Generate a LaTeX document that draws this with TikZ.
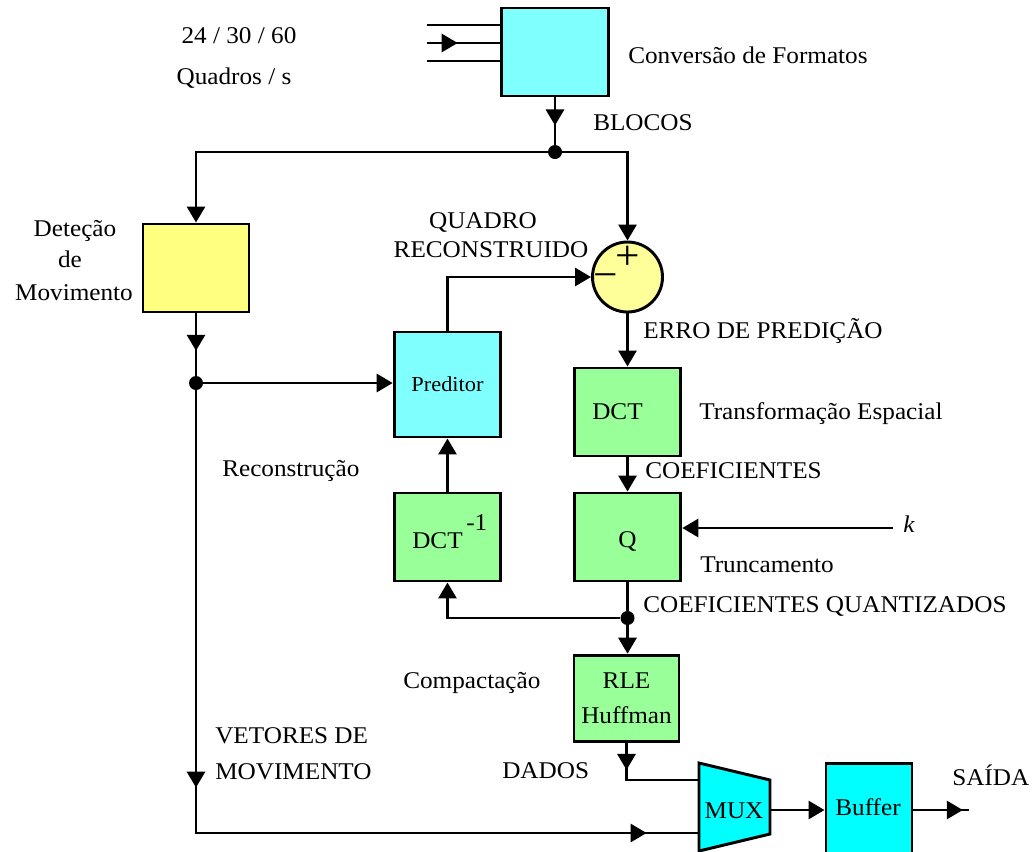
\documentclass[tikz,border=0pt]{standalone}
\usepackage{fontspec}
\setmainfont{Liberation Serif}[FakeStretch=1.05]
\usetikzlibrary{arrows.meta,decorations.markings}

\definecolor{cyanlt}{HTML}{80FFFF}
\definecolor{cyanfull}{HTML}{00FFFF}
\definecolor{yellowlt}{HTML}{FFFF80}
\definecolor{sumyellow}{HTML}{FFFF99}
\definecolor{greenlt}{HTML}{99FF99}

\tikzset{
  tri/.tip={Triangle[length=12pt,width=13.5pt]},
  wire/.style={line width=2.2pt},
  blk/.style={draw, line width=2.2pt, inner sep=0pt},
  sqbox/.style={blk, minimum width=80pt, minimum height=66pt},
  lbl/.style={inner sep=0pt, font=\fontsize{18}{21}\selectfont},
  lw/.style={lbl, anchor=base west},
  lc/.style={lbl, anchor=base},
  sgn/.style={inner sep=0pt, anchor=base, font=\fontsize{31}{31}\selectfont},
  dot/.style={circle, fill=black, inner sep=0pt, minimum size=10.5pt},
  midarr/.style={postaction={decorate},
    decoration={markings, mark=at position #1 with {\arrow{tri}}}},
}

\begin{document}
\begin{tikzpicture}[x=0.75pt,y=-0.75pt]
\useasboundingbox (0,0) rectangle (1034,851);

% ---- blocks
\node[sqbox, fill=cyanlt] (conv) at (555,52) {};
\node[sqbox, fill=yellowlt, minimum width=79.5pt] (det) at (196,268) {};
\node[blk, fill=cyanlt, minimum width=80pt, minimum height=78.75pt,
      font=\fontsize{16}{19}\selectfont] (pred) at (447.5,384.5) {Preditor};
\node[circle, draw, line width=2.2pt, fill=sumyellow, minimum size=52.5pt,
      inner sep=0pt] (sum) at (627.5,277) {};
\node[sqbox, fill=greenlt] (dct) at (627.5,412) {};
\node[sqbox, fill=greenlt] (q) at (627.5,537) {};
\node[sqbox, fill=greenlt] (idct) at (447.5,537) {};
\node[blk, fill=greenlt, minimum width=78.75pt, minimum height=65pt,
      align=center, font=\fontsize{18}{26}\selectfont] (rle) at (626.5,698.5) {RLE\\Huffman};
\node[blk, fill=cyanfull, minimum width=64.5pt, minimum height=69.75pt] (buf) at (869,810) {};
\draw[line width=2.2pt, fill=cyanfull] (699,763) -- (770,780) -- (770,834) -- (699,851) -- cycle;

% ---- texts inside blocks
\node[lw] (dcttxt) at (592,419) {DCT};
\node[lc] (qtxt) at (627.5,547) {Q};
\node[lw] (idcttxt) at (412,548) {DCT};
\node[lw] (idctexp) at (466,530) {-1};
\node[lc] (mux) at (734,818) {MUX};
\node[lc] (buftxt) at (868,815) {Buffer};
\node[sgn] (plus) at (628,269) {+};
\node[sgn] (minus) at (606,288) {−};

% ---- labels
\node[lc] at (239,43) {24 / 30 / 60};
\node[lc] at (234,84) {Quadros / s};
\node[lw] at (628,63) {Conversão de Formatos};
\node[lw] at (593,130) {BLOCOS};
\node[lc] at (75,236) {Deteção};
\node[lc] at (70,267) {de};
\node[lc] at (74,300) {Movimento};
\node[lc] at (483,228) {QUADRO};
\node[lc] at (491,257) {RECONSTRUIDO};
\node[lw] at (643,338) {ERRO DE PREDIÇÃO};
\node[lw] at (699,419) {Transformação Espacial};
\node[lw] at (222,476) {Reconstrução};
\node[lw] at (645,478) {COEFICIENTES};
\node[lw] at (700,572) {Truncamento};
\node[lw] at (643,612) {COEFICIENTES QUANTIZADOS};
\node[lw] at (403,688) {Compactação};
\node[lw] at (215,743) {VETORES DE};
\node[lw] at (215,779) {MOVIMENTO};
\node[lw] at (502,778) {DADOS};
\node[lw] at (952,785) {SAÍDA};
\node[lw, font=\fontsize{18}{21}\selectfont\itshape] (k) at (903,532) {k};

% ---- junctions and free ends
\node[dot] (j1) at (555,152) {};
\node[dot] (j2) at (196,383) {};
\node[dot] (j3) at (627.5,618) {};
\coordinate (in1) at (427,25);
\coordinate (in2) at (427,43);
\coordinate (in3) at (427,61);
\coordinate (kin) at (893,528);
\coordinate (bl) at (196,833);
\coordinate (muxa) at (699,780);
\coordinate (muxb) at (699,833);
\coordinate (muxo) at (770,810);
\coordinate (out) at (969,810);

% ---- connectors
\draw[wire] (in1) -- (in1 -| conv.west);
\draw[wire, midarr=23pt] (in2) -- (in2 -| conv.west);
\draw[wire] (in3) -- (in3 -| conv.west);
\draw[wire, midarr=21pt] (conv.south) -- (j1);
\draw[wire, -tri] (j1) -| (det.north);
\draw[wire, -tri] (j1) -| (sum.north);
\draw[wire, midarr=28pt] (det.south) -- (j2);
\draw[wire, -tri] (j2) -- (j2 -| pred.west);
\draw[wire, -tri] (pred.north) |- (sum.west);
\draw[wire, -tri] (sum.south) -- (dct.north);
\draw[wire, -tri] (dct.south) -- (q.north);
\draw[wire] (q.south) -- (j3);
\draw[wire, -tri] (j3) -- (j3 |- rle.north);
\draw[wire, -tri] (j3) -| (idct.south);
\draw[wire, -tri] (idct.north) -- (pred.south);
\draw[wire, -tri] (kin) -- (kin -| q.east);
\draw[wire, midarr=20pt] (rle.south) |- (muxa);
\draw[wire, postaction={decorate},
  decoration={markings,
    mark=at position 298pt with {\arrow{tri}},
    mark=at position 670pt with {\arrow{tri}}}]
  (j2) -- (bl) -- (muxb);
\draw[wire, -tri] (muxo) -- (muxo -| buf.west);
\draw[wire, midarr=37pt] (buf.east) -- (out);
\end{tikzpicture}
\end{document}
